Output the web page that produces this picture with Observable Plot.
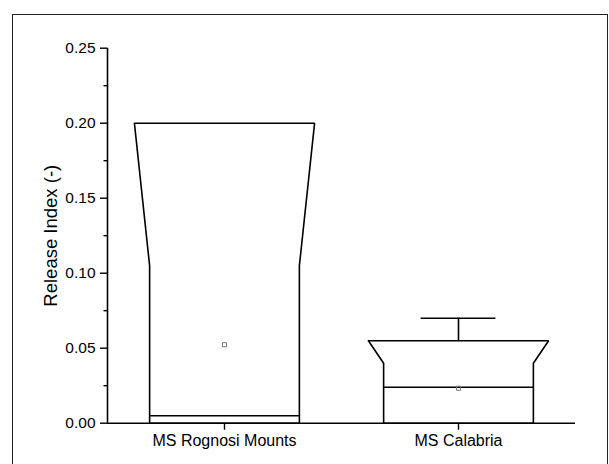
<!DOCTYPE html>
<html>
<head>
<meta charset="utf-8">
<script src="https://cdn.jsdelivr.net/npm/d3@7"></script>
<script src="https://cdn.jsdelivr.net/npm/@observablehq/plot@0.6"></script>
<style>
  html, body { margin: 0; padding: 0; background: #fff; }
  #wrap { position: relative; width: 609px; height: 464px; overflow: hidden; }
  #frame { position: absolute; left: 12px; top: 14px; width: 596px; height: 470px; border: 1.6px solid #222; box-sizing: border-box; pointer-events: none; }
  #chart { position: absolute; left: 0; top: 0; }
</style>
</head>
<body>
<div id="wrap"><div id="frame"></div><div id="chart"></div></div>
<script>
// Data
const categories = ["MS Rognosi Mounts", "MS Calabria"];
const q1 = [0.0, 0.0];
const q3 = [0.20, 0.055];
const medians = [0.005, 0.024];
const notchTop = [0.105, 0.040];
const whiskerHigh = [0.20, 0.070];
const means = [0.0523, 0.0233];
const majorTicks = [0, 0.05, 0.10, 0.15, 0.20, 0.25];
const minorTicks = [0.025, 0.075, 0.125, 0.175, 0.225];

// Box geometry (in category units, band = 1)
const halfWide = 0.385, halfNarrow = 0.32, capHalf = 0.16;

const stats = categories.map((c, i) => ({
  cat: c, i, q1: q1[i], q3: q3[i], median: medians[i], notch: notchTop[i],
  whi: whiskerHigh[i], mean: means[i]
}));

const outline = stats.flatMap(s => [
  {cat: s.cat, x: s.i - halfWide, y: s.q3},
  {cat: s.cat, x: s.i + halfWide, y: s.q3},
  {cat: s.cat, x: s.i + halfNarrow, y: s.notch},
  {cat: s.cat, x: s.i + halfNarrow, y: s.q1},
  {cat: s.cat, x: s.i - halfNarrow, y: s.q1},
  {cat: s.cat, x: s.i - halfNarrow, y: s.notch},
  {cat: s.cat, x: s.i - halfWide, y: s.q3}
]);

const whiskers = stats.filter(s => s.whi > s.q3);

const chart = Plot.plot({
  width: 609,
  height: 464,
  marginLeft: 107,
  marginRight: 34,
  marginTop: 47.7,
  marginBottom: 41.3,
  style: {fontFamily: "Liberation Sans, Arial, sans-serif", fontSize: "15.5px", color: "#000", background: "transparent"},
  x: {type: "linear", domain: [-0.5, 1.5]},
  y: {domain: [0, 0.25]},
  marks: [
    Plot.line(outline, {x: "x", y: "y", z: "cat", stroke: "#000", strokeWidth: 1.6, strokeLinejoin: "miter"}),
    Plot.ruleY(stats, {y: "median", x1: d => d.i - halfNarrow, x2: d => d.i + halfNarrow, stroke: "#000", strokeWidth: 1.6}),
    Plot.ruleX(whiskers, {x: "i", y1: "q3", y2: "whi", stroke: "#000", strokeWidth: 1.6}),
    Plot.ruleY(whiskers, {y: "whi", x1: d => d.i - capHalf, x2: d => d.i + capHalf, stroke: "#000", strokeWidth: 1.6}),
    Plot.dot(stats, {x: "i", y: "mean", symbol: "square", r: 2.3, stroke: "#777", strokeWidth: 1, fill: "none"}),
    Plot.ruleX([-0.5], {stroke: "#000", strokeWidth: 1.6}),
    Plot.ruleY([0], {stroke: "#000", strokeWidth: 1.6}),
    Plot.axisY({ticks: majorTicks, tickFormat: d3.format(".2f"), tickSize: 7, tickPadding: 5, label: null, strokeWidth: 1.4, fontSize: 15.5}),
    Plot.axisY({ticks: minorTicks, tickFormat: () => "", tickSize: 3.5, label: null, strokeWidth: 1.4}),
    Plot.axisX({ticks: [0, 1], tickFormat: i => categories[i], tickSize: 7, tickPadding: 4, label: null, strokeWidth: 1.4, fontSize: 16}),
    Plot.text(["Release Index (-)"], {frameAnchor: "left", dx: -56, rotate: -90, text: d => d, fontSize: 18.5, fill: "#000", textAnchor: "middle", lineAnchor: "middle"})
  ]
});
document.getElementById("chart").appendChild(chart);
</script>
</body>
</html>
